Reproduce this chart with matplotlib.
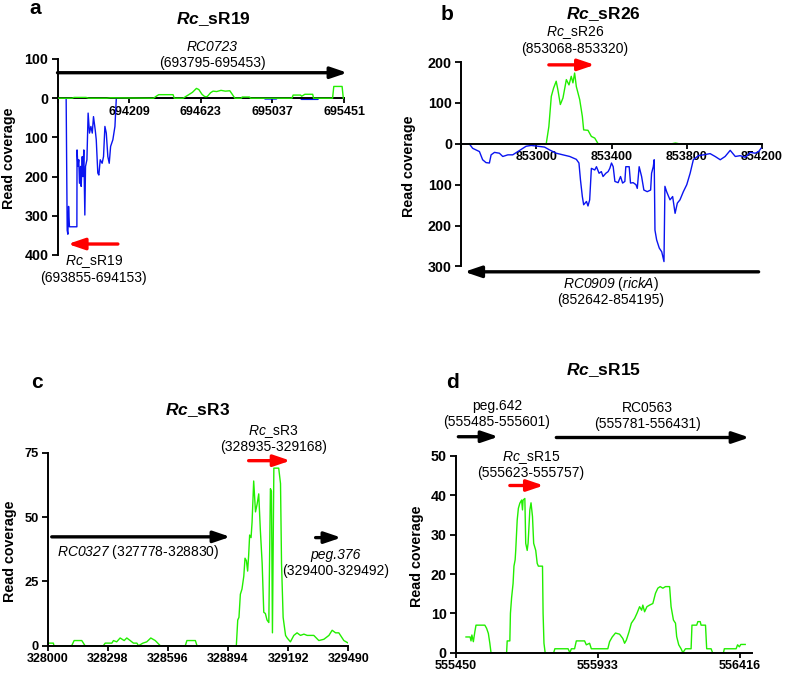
import numpy as np
import matplotlib.pyplot as plt

plt.rcParams['font.family'] = ['Liberation Sans', 'DejaVu Sans']
plt.rcParams['mathtext.fontset'] = 'custom'
plt.rcParams['mathtext.rm'] = 'Liberation Sans'
plt.rcParams['mathtext.it'] = 'Liberation Sans:italic'
plt.rcParams['mathtext.cal'] = 'Liberation Sans:italic'
plt.rcParams['mathtext.bfit'] = 'Liberation Sans:bold:italic'

W, H = 787, 677
GREEN = '#22ee00'
BLUE = '#0a14f0'

# ---- panel a: Rc_sR19 ----
a_fwd_pos = [693795, 693880, 693890, 693960, 693975, 694080, 694100, 694350, 694366, 694380,
             694405, 694463, 694470, 694521, 694550, 694575, 694598, 694612, 694630, 694646,
             694660, 694680, 694694, 694715, 694740, 694765, 694791, 694805, 694820, 694858,
             694862, 694905, 694910, 695150, 695157, 695200, 695206, 695225, 695270, 695275,
             695385, 695392, 695432, 695440, 695447]
a_fwd_cov = [0, 0, 2, 2, 0, 0, 1, 0, 5, 9,
             9, 9, 0, 0, 8, 15, 25, 22, 10, 4,
             4, 14, 18, 17, 20, 18, 19, 10, 0, 0,
             3, 3, 0, 0, 8, 8, 5, 10, 10, 0,
             0, 30, 30, 30, 0]
a_rev_pos = [693845, 693851, 693855, 693859, 693864, 693907, 693908, 693913, 693918, 693922,
             693928, 693932, 693938, 693942, 693947, 693953, 693957, 693965, 693972, 693980,
             693988, 693996, 694003, 694013, 694019, 694028, 694034, 694042, 694053, 694061,
             694069, 694077, 694086, 694094, 694102, 694115, 694127, 694135, 694990, 694995,
             695060, 695065, 695200, 695205, 695300, 695305]
a_rev_cov = [0, 337, 347, 276, 328, 328, 132, 174, 157, 217,
             174, 225, 149, 200, 132, 298, 174, 157, 38, 89,
             72, 89, 47, 81, 106, 191, 196, 157, 166, 149,
             72, 89, 149, 166, 123, 106, 72, 0, 0, 2,
             2, 0, 0, 3, 3, 0]
a_xticks = [693795, 694209, 694623, 695037, 695451]
a_xlabels = ['', '694209', '694623', '695037', '695451']
a_yticks = [100, 0, -100, -200, -300, -400]
a_ylabels = ['100', '0', '100', '200', '300', '400']

# ---- panel b: Rc_sR26 ----
b_fwd_pos = [852644, 853053, 853067, 853080, 853092, 853106, 853115, 853128, 853142, 853160,
             853174, 853186, 853195, 853204, 853213, 853231, 853245, 853252, 853275, 853293,
             853311, 853329, 853720, 853740, 853760, 854195]
b_fwd_cov = [0, 0, 42, 116, 136, 153, 132, 96, 112, 157,
             144, 165, 149, 173, 140, 108, 67, 34, 33, 18,
             14, 0, 0, 2, 0, 0]
b_rev_pos = [852644, 852662, 852698, 852715, 852733, 852751, 852760, 852778, 852804, 852822,
             852849, 852875, 852902, 852929, 852946, 852973, 853009, 853044, 853071, 853106,
             853142, 853178, 853213, 853227, 853235, 853245, 853252, 853267, 853275, 853284,
             853293, 853311, 853320, 853334, 853346, 853355, 853370, 853382, 853391, 853400,
             853409, 853418, 853435, 853448, 853459, 853471, 853476, 853494, 853501, 853515,
             853530, 853537, 853547, 853560, 853572, 853590, 853608, 853613, 853622, 853627,
             853631, 853640, 853654, 853667, 853679, 853684, 853693, 853711, 853725, 853738,
             853750, 853764, 853782, 853800, 853818, 853835, 853862, 853889, 853924, 853951,
             853978, 854004, 854031, 854058, 854084, 854111, 854138, 854164, 854182, 854195]
b_rev_cov = [0, 11, 19, 39, 46, 47, 27, 21, 23, 31,
             27, 27, 19, 11, 6, 4, 6, 8, 15, 23,
             27, 31, 38, 47, 88, 129, 149, 141, 152, 137,
             60, 64, 56, 72, 68, 80, 72, 68, 60, 47,
             56, 92, 95, 80, 96, 92, 56, 56, 96, 95,
             100, 109, 56, 80, 113, 117, 113, 72, 56, 39,
             211, 235, 255, 264, 288, 104, 117, 137, 129, 170,
             145, 137, 117, 100, 72, 39, 29, 27, 24, 31,
             39, 31, 16, 31, 29, 33, 21, 23, 19, 11]
b_xticks = [852600, 853000, 853400, 853800, 854200]
b_xlabels = ['', '853000', '853400', '853800', '854200']
b_yticks = [200, 100, 0, -100, -200, -300]
b_ylabels = ['200', '100', '0', '100', '200', '300']

# ---- panel c: Rc_sR3 ----
c_pos = [328000, 328028, 328031, 328119, 328131, 328169, 328185, 328276, 328285, 328318,
         328326, 328342, 328359, 328379, 328392, 328409, 328425, 328442, 328450, 328472,
         328491, 328511, 328533, 328558, 328682, 328690, 328732, 328740, 328935, 328942,
         328948, 328955, 328963, 328972, 328978, 328985, 328991, 328996, 329001, 329008,
         329013, 329021, 329030, 329038, 329046, 329054, 329063, 329071, 329079, 329087,
         329096, 329104, 329109, 329114, 329121, 329145, 329154, 329159, 329167, 329179,
         329187, 329203, 329220, 329236, 329253, 329270, 329286, 329303, 329319, 329344,
         329369, 329394, 329410, 329427, 329443, 329468, 329490]
c_cov = [1, 1, 0, 0, 2, 2, 0, 0, 1, 1,
         2, 1.5, 3, 2, 3, 2, 1, 1, 0, 1,
         1.5, 3, 2, 0, 0, 2, 2, 0, 0, 10,
         11, 20, 22, 27, 34, 33, 29, 35, 43, 42,
         48, 64, 52, 55, 59, 45, 32, 13, 12.5, 10,
         9, 61, 60, 5, 69, 69, 63, 32, 11, 4,
         3, 1.5, 4, 5, 4, 4.5, 4, 4, 4, 2,
         2.5, 4, 6, 5, 5, 2, 1]
c_xticks = [328000, 328298, 328596, 328894, 329192, 329490]
c_yticks = [0, 25, 50, 75]

# ---- panel d: Rc_sR15 ----
d_pos = [555485, 555499, 555502, 555505, 555510, 555515, 555519, 555549, 555555, 555561,
         555566, 555570, 555623, 555625, 555634, 555636, 555640, 555645, 555648, 555652,
         555654, 555659, 555663, 555668, 555674, 555677, 555679, 555685, 555688, 555693,
         555696, 555702, 555706, 555711, 555715, 555722, 555727, 555731, 555745, 555747,
         555750, 555754, 555783, 555787, 555832, 555838, 555843, 555854, 555860, 555888,
         555894, 555905, 555911, 555967, 555973, 555982, 555993, 556007, 556018, 556024,
         556030, 556039, 556047, 556058, 556066, 556075, 556082, 556086, 556092, 556100,
         556109, 556120, 556129, 556137, 556145, 556154, 556163, 556177, 556182, 556190,
         556197, 556201, 556208, 556216, 556222, 556231, 556250, 556253, 556269, 556273,
         556281, 556284, 556299, 556303, 556318, 556323, 556360, 556363, 556403, 556408,
         556414, 556419, 556434]
d_cov = [4, 4, 3, 4.5, 2.8, 5.3, 7, 7, 6.2, 4.9,
         2.4, 0, 0, 3, 3, 10, 14, 17.6, 22, 23.6,
         26, 33.7, 36.7, 38, 38.8, 36.3, 38.8, 39.2, 27.8, 26,
         27.8, 36.3, 38.1, 34.6, 27.8, 26, 22.7, 22, 22, 10,
         2.4, 0, 0, 1, 1, 0, 1, 1, 3, 3,
         2, 2.4, 1, 1, 2.8, 4, 5, 4.7, 3.6, 2.4,
         3.2, 5.3, 7.5, 8.7, 10, 11.7, 10.8, 12.1, 10.4, 11.7,
         12.1, 12.5, 15.1, 16.4, 16.8, 16.4, 16.8, 16.8, 11.7, 8.3,
         7.5, 4.1, 2, 1, 0, 1, 1, 7, 7, 7.9,
         7.9, 7, 7, 1, 1, 0, 0, 1, 1, 2,
         1.5, 2.1, 2.1]
d_xticks = [555450, 555933, 556416]
d_yticks = [0, 10, 20, 30, 40, 50]

# gene / sRNA arrows: (tail, tip, y, colour)
a_arrows = [(693795, 695470, 65, 'k'), (694144, 693855, -372, 'r')]
b_arrows = [(854182, 852618, -313, 'k'), (853067, 853311, 193, 'r')]
c_arrows = [(328020, 328905, 42.3, 'k'), (329328, 329455, 42, 'k'), (328996, 329203, 71.9, 'r')]
d_arrows = [(555459, 555595, 54.9, 'k'), (555792, 556448, 54.7, 'k'), (555634, 555749, 42.5, 'r')]


def rect(l, t, r, b):
    return [l / W, 1 - b / H, (r - l) / W, (b - t) / H]


def style_axes(ax, xsize, ysize):
    for s in ['top', 'right']:
        ax.spines[s].set_visible(False)
    for s in ['left', 'bottom']:
        ax.spines[s].set_linewidth(1.4)
    ax.tick_params(direction='out', width=1.3, pad=2)
    ax.tick_params(axis='x', labelsize=xsize, length=3.5)
    ax.tick_params(axis='y', labelsize=ysize, length=4.5)
    for lab in ax.get_xticklabels() + ax.get_yticklabels():
        lab.set_fontweight('bold')


def arrow(ax, tail, tip, y, color):
    ax.annotate('', xy=(tip, y), xytext=(tail, y), annotation_clip=False,
                arrowprops=dict(arrowstyle='-|>,head_length=0.5,head_width=0.17',
                                color=color, lw=2.4, shrinkA=0, shrinkB=0,
                                mutation_scale=20))


def label(ax, x, y, lines, italic=()):
    # one text per line, stacked around (x, y)
    n = len(lines)
    for i, s in enumerate(lines):
        dy = ((n - 1) / 2 - i) * 11.5
        ax.annotate(s, (x, y), xytext=(0, dy), textcoords='offset points',
                    ha='center', va='center', fontsize=10, annotation_clip=False,
                    fontstyle='italic' if i in italic else 'normal')


fig = plt.figure(figsize=(W / 100, H / 100), dpi=100)

# panel a
ax = fig.add_axes(rect(57.5, 59, 344, 255))
ax.plot(a_rev_pos, -np.array(a_rev_cov), color=BLUE, lw=1.0)
ax.plot(a_fwd_pos, a_fwd_cov, color=GREEN, lw=1.0, zorder=3)
ax.set_xlim(693795, 695451)
ax.set_ylim(-400, 100)
ax.spines['bottom'].set_position(('data', 0))
ax.set_xticks(a_xticks, a_xlabels)
ax.set_yticks(a_yticks, a_ylabels)
style_axes(ax, 9, 10.3)
for t in a_arrows:
    arrow(ax, *t)
label(ax, 694690, 110, ['RC0723', '(693795-695453)'], italic=(0,))
label(ax, 694005, -438, ['$\\mathit{Rc}$_sR19', '(693855-694153)'])

# panel b
ax = fig.add_axes(rect(461, 62, 762, 266.5))
ax.plot(b_rev_pos, -np.array(b_rev_cov), color=BLUE, lw=1.0)
ax.plot(b_fwd_pos, b_fwd_cov, color=GREEN, lw=1.0)
ax.set_xlim(852600, 854200)
ax.set_ylim(-300, 200)
ax.spines['bottom'].set_position(('data', 0))
ax.set_xticks(b_xticks, b_xlabels)
ax.set_yticks(b_yticks, b_ylabels)
style_axes(ax, 9, 10.3)
for t in b_arrows:
    arrow(ax, *t)
label(ax, 853205, 252, ['$\\mathit{Rc}$_sR26', '(853068-853320)'])
label(ax, 853395, -362, ['$\\mathcal{RC0909}$ ($\\mathit{rickA}$)', '(852642-854195)'])

# panel c
ax = fig.add_axes(rect(47.7, 452.7, 348.3, 645.7))
ax.plot(c_pos, c_cov, color=GREEN, lw=1.0)
ax.set_xlim(328000, 329490)
ax.set_ylim(0, 75)
ax.set_xticks(c_xticks, [str(v) for v in c_xticks])
ax.set_yticks(c_yticks, [str(v) for v in c_yticks])
style_axes(ax, 9, 9.3)
for t in c_arrows:
    arrow(ax, *t)
label(ax, 328450, 36.4, ['$\\mathcal{RC0327}$ (327778-328830)'])
label(ax, 329427, 32.1, ['peg.376', '(329400-329492)'], italic=(0,))
label(ax, 329118, 80.3, ['$\\mathit{Rc}$_sR3', '(328935-329168)'])

# panel d
ax = fig.add_axes(rect(455.7, 456, 751.7, 652.7))
ax.plot(d_pos, d_cov, color=GREEN, lw=1.0)
ax.set_xlim(555450, 556456)
ax.set_ylim(0, 50)
ax.set_xticks(d_xticks, [str(v) for v in d_xticks])
ax.set_yticks(d_yticks, [str(v) for v in d_yticks])
style_axes(ax, 9, 10.3)
for t in d_arrows:
    arrow(ax, *t)
label(ax, 555590, 60.7, ['peg.642', '(555485-555601)'])
label(ax, 556102, 60.2, ['RC0563', '(555781-556431)'])
label(ax, 555706, 47.7, ['$\\mathit{Rc}$_sR15', '(555623-555757)'])

# titles, panel letters, axis titles
titles = ['$\\mathbfit{Rc}$_sR19', '$\\mathbfit{Rc}$_sR26', '$\\mathbfit{Rc}$_sR3', '$\\mathbfit{Rc}$_sR15']
title_xy = [(213, 19), (603, 14), (198, 410), (603, 370)]
letters = ['a', 'b', 'c', 'd']
letter_xy = [(35, 9), (447, 15), (37, 382), (452, 382)]
ylab_xy = [(9, 158), (409, 166), (10, 551), (417, 556)]
for s, (x, y) in zip(titles, title_xy):
    fig.text(x / W, 1 - y / H, s, ha='center', va='center', fontsize=12.5, fontweight='bold')
for s, (x, y) in zip(letters, letter_xy):
    fig.text(x / W, 1 - y / H, s, ha='center', va='center', fontsize=15, fontweight='bold')
for x, y in ylab_xy:
    fig.text(x / W, 1 - y / H, 'Read coverage', ha='center', va='center', rotation=90,
             fontsize=10.3, fontweight='bold')

fig.savefig('out.png', dpi=100)
